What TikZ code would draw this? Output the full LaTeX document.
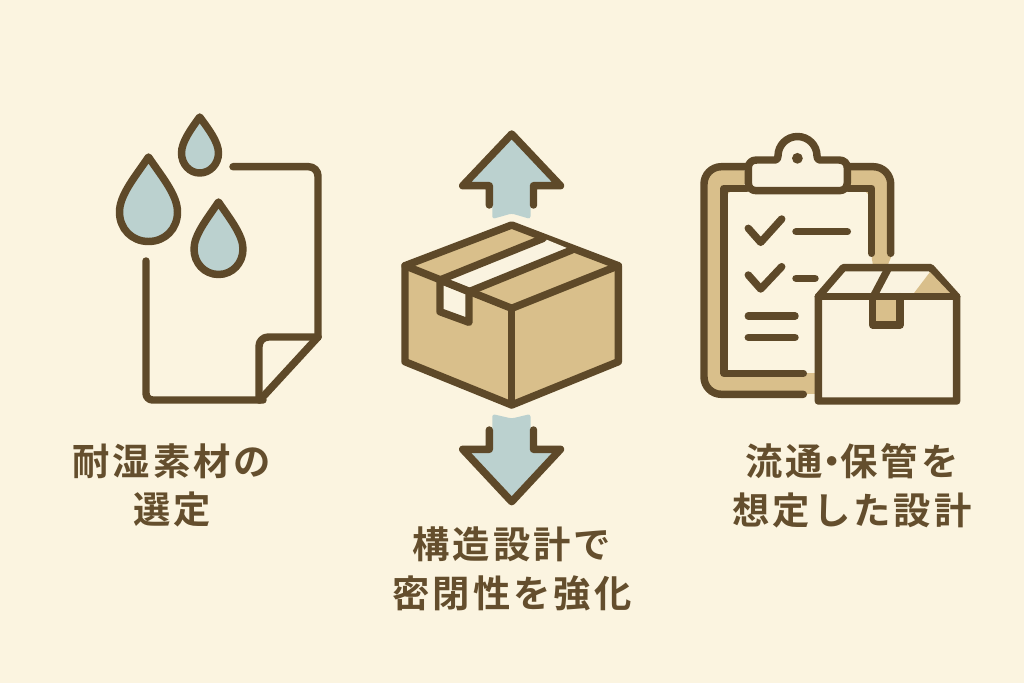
\documentclass[tikz,border=0pt]{standalone}
\usepackage{fontspec}
\newfontfamily\cjk[LetterSpace=8]{Noto Sans CJK JP Bold}
\definecolor{bgc}{HTML}{FBF4E0}
\definecolor{ink}{HTML}{5E4929}
\definecolor{tan}{HTML}{D9BF8B}
\definecolor{sky}{HTML}{BBD1CF}
\definecolor{cream}{HTML}{FAF3E0}
\definecolor{txt}{HTML}{644E2D}
\tikzset{
  ln/.style={draw=ink,line width=5.6pt,line cap=round,line join=round},
  lab/.style={text=txt,font=\cjk\fontsize{28pt}{30pt}\selectfont,inner sep=0pt,anchor=center},
}
\begin{document}
\begin{tikzpicture}[x=0.75pt,y=-0.75pt]
\useasboundingbox (0,0) rectangle (1024,683);
\fill[bgc] (0,0) rectangle (1024,683);

% left: sheet
\draw[ln,rounded corners=7pt] (233,166.7) -- (318,166.7) -- (318,337);
\draw[ln,rounded corners=5pt] (263,400) -- (146,400) -- (146,261);
\draw[ln,rounded corners=7pt] (318,337) -- (259,337) -- (259,400);
\draw[ln] (318,337) -- (260,400);
% drops
\draw[ln,fill=sky] (148.5,157) .. controls (135,177) and (119.5,195) .. (119.5,212)
  .. controls (119.5,229) and (132,241.5) .. (148.5,241.5)
  .. controls (165,241.5) and (177.5,229) .. (177.5,212)
  .. controls (177.5,195) and (162,177) .. (148.5,157) -- cycle;
\draw[ln,fill=sky] (199.7,117) .. controls (191,129) and (181.5,142) .. (181.5,153)
  .. controls (181.5,164) and (189.5,173) .. (199.7,173)
  .. controls (210,173) and (218.5,164) .. (218.5,153)
  .. controls (218.5,142) and (208.5,129) .. (199.7,117) -- cycle;
\draw[ln,fill=sky] (218.5,202) .. controls (207,219) and (194,235) .. (194,249)
  .. controls (194,263) and (204.5,274.5) .. (218.5,274.5)
  .. controls (232.5,274.5) and (243,263) .. (243,249)
  .. controls (243,235) and (230,219) .. (218.5,202) -- cycle;

% middle: arrows
\fill[sky,rounded corners=2pt] (511.7,134) -- (462.7,185.7) -- (492.3,185.7) -- (492.3,219) -- (511.7,213.5) -- (530.5,219) -- (530.5,185.7) -- (560.5,185.7) -- cycle;
\draw[ln] (489.3,205) -- (489.3,185.7) -- (462.7,185.7) -- (511.7,134) -- (560.5,185.7) -- (533.5,185.7) -- (533.5,205);
\fill[sky,rounded corners=2pt] (511.7,501.7) -- (462.7,449.3) -- (492.3,449.3) -- (492.3,414) -- (511.7,418.5) -- (530.5,414) -- (530.5,449.3) -- (560.5,449.3) -- cycle;
\draw[ln] (489.3,430) -- (489.3,449.3) -- (462.7,449.3) -- (511.7,501.7) -- (560.5,449.3) -- (533.5,449.3) -- (533.5,430);

% middle: box
\draw[ln,fill=tan] (511.7,225) -- (618.3,265.7) -- (618.3,361.7) -- (511.7,405) -- (405,361.7) -- (405,265.7) -- cycle;
\fill[cream] (440,280) -- (543.3,238.3) -- (571.7,250) -- (470,293.3) -- cycle;
\draw[ln,fill=cream] (440,280) -- (440,311.7) -- (469,322.3) -- (469,291.7) -- cycle;
\draw[ln] (405,265.7) -- (511.7,308.3) -- (618.3,265.7);
\draw[ln] (511.7,308.3) -- (511.7,405);
\draw[ln] (440,280) -- (543.3,238.3);
\draw[ln] (469,291.7) -- (571.7,250);

% right: clipboard tan band
\fill[tan,rounded corners=12pt] (704,166.7) -- (750,166.7) -- (750,188.3) -- (724,188.3) -- (724,394.3) -- (704,394.3) -- cycle;
\fill[tan] (724,373.3) rectangle (820,394.3);
\fill[tan] (714,380) rectangle (730,394.3);
\fill[tan,rounded corners=12pt] (845,166.7) -- (890.7,166.7) -- (890.7,200) -- (871.7,200) -- (871.7,188.3) -- (845,188.3) -- cycle;
\fill[tan] (871.7,180) rectangle (890.7,258);
\fill[tan] (871.7,258) -- (873.5,268) -- (886.5,268) -- (890.7,258) -- cycle;
\draw[ln,rounded corners=13pt] (746.7,166.7) -- (704,166.7) -- (704,394.3) -- (803.3,394.3);
\draw[ln,rounded corners=13pt] (848.3,166.7) -- (890.7,166.7) -- (890.7,253.3);
\draw[ln] (746.7,188.3) -- (724,188.3) -- (724,373.3) -- (803.3,373.3);
\draw[ln] (848.3,188.3) -- (871.7,188.3) -- (871.7,253.3);
% clip
\draw[ln,fill=cream] (756.5,160) -- (775,160) .. controls (777,160) and (778,158.5) .. (778,156)
  .. controls (778,145.2) and (786.7,136.5) .. (797.5,136.5)
  .. controls (808.3,136.5) and (817,145.2) .. (817,156)
  .. controls (817,158.5) and (818,160) .. (820,160)
  -- (839,160) .. controls (844,160) and (847.3,163) .. (847.3,168)
  -- (847.3,182.7) .. controls (847.3,187.7) and (844,190.7) .. (839,190.7)
  -- (756.5,190.7) .. controls (751.5,190.7) and (748.3,187.7) .. (748.3,182.7)
  -- (748.3,168) .. controls (748.3,163) and (751.5,160) .. (756.5,160) -- cycle;
\fill[ink] (797.4,158.3) circle[radius=5.4];
% checklist
\draw[ln] (748.3,228.3) -- (760.7,242.3) -- (781.7,219);
\draw[ln] (796,231.7) -- (847.3,231.7);
\draw[ln] (748.3,275) -- (760.7,289) -- (781.7,266.7);
\draw[ln] (796,278.3) -- (815,278.3);
\draw[ln] (748.3,316) -- (795,316);
\draw[ln] (748.3,337.3) -- (795,337.3);
% right: small box
\draw[ln,fill=cream] (818.3,296.7) -- (843.3,267.7) -- (930.7,267.7) -- (956.7,296.7) -- (956.7,401) -- (818.3,401) -- cycle;
\fill[tan] (930,272) -- (913.3,294) -- (951,294) -- cycle;
\draw[ln,fill=tan] (872.7,296.7) -- (872.7,325) -- (900,325) -- (900,296.7);
\draw[ln] (818.3,296.7) -- (956.7,296.7);
\draw[ln] (888.3,268.3) -- (873.3,296.7);

% labels
\node[lab] (a1) at (172,461) {耐湿素材の};
\node[lab] (a2) at (172,509) {選定};
\node[lab] (b1) at (512,544) {構造設計で};
\node[lab] (b2) at (512,593) {密閉性を強化};
\node[lab] (c1) at (852,461) {流通\kern-0.27em・\kern-0.27em保管を};
\node[lab] (c2) at (852,510) {想定した設計};
\end{tikzpicture}
\end{document}
